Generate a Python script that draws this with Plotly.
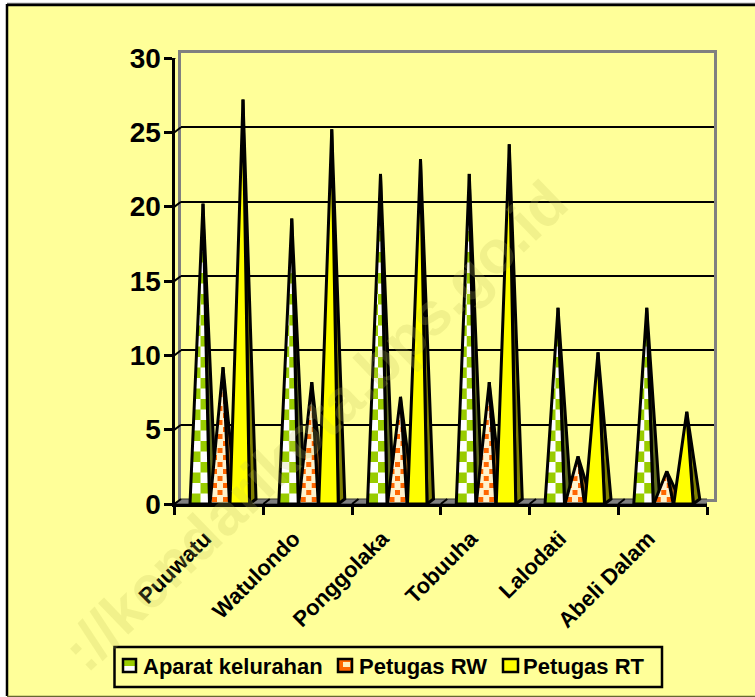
import plotly.graph_objects as go

categories = ["Puuwatu", "Watulondo", "Ponggolaka", "Tobuuha", "Lalodati", "Abeli Dalam"]
aparat = [20, 19, 22, 22, 13, 13]
rw = [9, 8, 7, 8, 3, 2]
rt = [27, 25, 23, 24, 10, 6]
y_ticks = [0, 5, 10, 15, 20, 25, 30]
WATERMARK = "://kendarikota.bps.go.id"

W, H = 755, 697
# front plane and back wall pixel frames
FL, FR, FB, FT = 174.5, 707, 504, 58
DX, DY = 6.5, 5
PX = (FR - FL) / 6
PY = (FB - FT) / 30


def clip(poly, a, b):
    """Keep the part of poly on the left of the a->b edge."""
    out = []
    side = lambda p: (b[0] - a[0]) * (p[1] - a[1]) - (b[1] - a[1]) * (p[0] - a[0])
    for i, p in enumerate(poly):
        q = poly[(i + 1) % len(poly)]
        sp, sq = side(p), side(q)
        if sp >= 0:
            out.append(p)
        if sp * sq < 0:
            t = sp / (sp - sq)
            out.append((p[0] + t * (q[0] - p[0]), p[1] + t * (q[1] - p[1])))
    return out


def clip_tri(p, tri):
    (l, _), (r, _), ap = tri
    for a, b in [((l, 0), (r, 0)), ((r, 0), ap), (ap, (l, 0))]:
        if p:
            p = clip(p, a, b)
    return p


def to_xy(polys):
    xs, ys = [], []
    for poly in polys:
        if not poly:
            continue
        xs += [p[0] for p in poly] + [poly[0][0], None]
        ys += [p[1] for p in poly] + [poly[0][1], None]
    return xs, ys


def cone(group, series, value):
    """Cone outline in data units; px offsets are converted by PX / PY."""
    left = group + (15.5 + series * 20) / PX
    right = left + 19.5 / PX
    apex = (left + 13 / PX, value + 3 / PY)
    return (left, 0), (right, 0), apex


def checker(tri, size=10.5):
    (l, _), (r, _), ap = tri
    cw, ch = size / PX, size / PY
    polys = []
    i = 0
    while i * ch < ap[1]:
        for j in range(3):
            if (i + j) % 2 == 0:
                x0, x1 = l + j * cw, l + (j + 1) * cw
                y0, y1 = i * ch, (i + 1) * ch
                polys.append(clip_tri([(x0, y0), (x1, y0), (x1, y1), (x0, y1)], tri))
        i += 1
    return polys


def dots(tri, step=11, row=7, dot=5):
    (l, _), (r, _), ap = tri
    polys = []
    i = 0
    while (2 + i * row) / PY < ap[1]:
        y0 = (2 + i * row) / PY
        k = -1
        while True:
            x0 = l + (2 + k * step + (i % 2) * step / 2) / PX
            if x0 > r:
                break
            polys.append(clip_tri([(x0, y0), (x0 + dot / PX, y0), (x0 + dot / PX, y0 + dot / PY), (x0, y0 + dot / PY)], tri))
            k += 1
        i += 1
    return polys


fig = go.Figure()
F = dict(xaxis="x2", yaxis="y2", cliponaxis=False, hoverinfo="skip")

# invisible trace so the back wall subplot is drawn
fig.add_trace(go.Scatter(x=[0, 6], y=[0, 30], mode="lines", line=dict(width=0), showlegend=False,
                         hoverinfo="skip", xaxis="x", yaxis="y"))

# legend entries (the text is native; their swatches are drawn below at the reference size)
for name, lg in [("Aparat kelurahan", "legend"), ("Petugas RW", "legend2"), ("Petugas RT", "legend3")]:
    fig.add_trace(go.Bar(
        x=[0.5], y=[0], width=0.001, name=name, xaxis="x2", yaxis="y2", legend=lg,
        marker=dict(color="rgba(0,0,0,0)", line=dict(width=0)), hoverinfo="skip",
    ))

# floor
fig.add_trace(go.Scatter(
    x=[0, DX / PX, 6 + DX / PX, 6, 0], y=[0, DY / PY, DY / PY, 0, 0], mode="lines", fill="toself",
    fillcolor="#808080", line=dict(color="#333333", width=1), showlegend=False, **F))
# connector stubs from front axis to back wall
sx, sy = [], []
for v in y_ticks[1:]:
    sx += [0, DX / PX, None]
    sy += [v, v + DY / PY, None]
for i in range(0, 7):
    sx += [i, i + DX / PX, None]
    sy += [0, DY / PY, None]
fig.add_trace(go.Scatter(x=sx, y=sy, mode="lines", line=dict(color="#000000", width=2), showlegend=False, **F))

series = [
    (aparat, "#FFFFFF", "#99CC00", "#5F6B1E"),
    (rw, "#FFF2CC", "#FF6600", "#8F5A10"),
    (rt, "#FFFF00", None, "#808000"),
]
black = dict(color="#000000", width=3)
for g in range(len(categories)):
    for s, (vals, base, pat, dark) in enumerate(series):
        tri = cone(g, s, vals[g])
        (l, _), (r, _), ap = tri
        # dark right side
        fig.add_trace(go.Scatter(
            x=[r, r + DX / PX, ap[0], r], y=[0, DY / PY, ap[1], 0], mode="lines", fill="toself",
            fillcolor=dark, line=black, showlegend=False, **F))
        # lit face
        fig.add_trace(go.Scatter(
            x=[l, r, ap[0], l], y=[0, 0, ap[1], 0], mode="lines", fill="toself",
            fillcolor=base, line=dict(width=0), showlegend=False, **F))
        polys = checker(tri) if s == 0 else dots(tri) if s == 1 else []
        if polys:
            xs, ys = to_xy(polys)
            fig.add_trace(go.Scatter(x=xs, y=ys, mode="lines", fill="toself", fillcolor=pat,
                                     line=dict(width=0), showlegend=False, **F))
        fig.add_trace(go.Scatter(
            x=[l, r, ap[0], l], y=[0, 0, ap[1], 0], mode="lines", line=black, showlegend=False, **F))

font_b = "Liberation Sans"


def legend_at(px):
    return dict(orientation="h", x=px / W, y=1 - 645 / H, xanchor="left", yanchor="top", borderwidth=0,
                bgcolor="rgba(0,0,0,0)", font=dict(family=font_b, size=22, color="#000000", weight="bold"),
                itemwidth=30)


def pline(x0, y0, x1, y1, color, width):
    return dict(type="line", xref="paper", yref="paper", x0=x0 / W, x1=x1 / W, y0=1 - y0 / H, y1=1 - y1 / H,
                line=dict(color=color, width=width), layer="below")


def prect(x0, y0, x1, y1, fill, line=0):
    return dict(type="rect", xref="paper", yref="paper", x0=x0 / W, x1=x1 / W, y0=1 - y1 / H, y1=1 - y0 / H,
                fillcolor=fill, line=dict(color="#000000", width=line), layer="above")


fig.update_layout(
    template=None,
    width=W, height=H, margin=dict(l=0, r=0, t=0, b=0, autoexpand=False), autosize=False,
    paper_bgcolor="#FFFFFF", plot_bgcolor="rgba(0,0,0,0)",
    font=dict(family=font_b, color="#000000"),
    barmode="overlay",
    xaxis=dict(domain=[(FL + DX) / W, (FR + DX) / W], range=[0, 6], anchor="y", automargin=False,
               showticklabels=False, ticks="", showgrid=False, zeroline=False,
               showline=True, mirror=True, linecolor="#808080", linewidth=2.5),
    yaxis=dict(domain=[1 - (FB - DY) / H, 1 - (FT - DY) / H], range=[0, 30], anchor="x", automargin=False,
               tickvals=y_ticks, showticklabels=False, ticks="", showgrid=True, gridcolor="#000000",
               gridwidth=2, zeroline=False, showline=True, mirror=True, linecolor="#808080", linewidth=2.5),
    xaxis2=dict(domain=[FL / W, FR / W], range=[0, 6], anchor="y2", automargin=False,
                tickmode="array", tickvals=[i + 0.5 for i in range(6)], ticktext=categories,
                tickangle=-45, ticks="", ticklabelshift=-14, ticklabelstandoff=10,
                tickfont=dict(family=font_b, size=22, color="#000000", weight="bold"),
                showgrid=False, zeroline=False, showline=True, linecolor="#000000", linewidth=3,
                minor=dict(tickmode="array", tickvals=list(range(7)), ticks="outside",
                           ticklen=8, tickwidth=3, tickcolor="#000000", showgrid=False)),
    yaxis2=dict(domain=[1 - FB / H, 1 - FT / H], range=[0, 30], anchor="x2", automargin=False,
                tickvals=y_ticks, ticks="outside", ticklen=8, tickwidth=3, tickcolor="#000000",
                ticklabelstandoff=-3,
                tickfont=dict(family=font_b, size=28, color="#000000", weight="bold"),
                showgrid=False, zeroline=False, showline=True, linecolor="#000000", linewidth=3),
    legend=legend_at(103),
    legend2=legend_at(319),
    legend3=legend_at(483),
    shapes=[
        dict(type="rect", xref="paper", yref="paper", x0=7 / W, x1=1.01, y0=1 - 696 / H, y1=1 - 5 / H,
             fillcolor="#FFFF99", line=dict(width=0), layer="below"),
        pline(7, 3.5, 760, 3.5, "#808080", 1.5),
        pline(7, 5, 760, 5, "#000000", 2.5),
        pline(7, 4, 7, 696, "#000000", 2.5),
        pline(7, 696.5, 760, 696.5, "#666633", 1.5),
        dict(type="rect", xref="paper", yref="paper", x0=114.5 / W, x1=662 / W, y0=1 - 687 / H, y1=1 - 647 / H,
             line=dict(color="#000000", width=2.5), layer="above"),
        # legend swatches
        prect(123, 659, 136, 666, "#99CC00"),
        prect(123, 666, 136, 672, "#FFFFFF"),
        prect(123, 659, 136, 672, "rgba(0,0,0,0)", 2.5),
        prect(338, 659, 352, 672, "#FF6600"),
        prect(343, 662, 350, 667, "#FFEFC0"),
        prect(338, 659, 352, 672, "rgba(0,0,0,0)", 2.5),
        prect(503, 659, 518, 672, "#FFFF00", 2.5),
    ],
    annotations=[dict(text=WATERMARK, xref="x2", yref="y2", x=(314 - FL) / PX, y=(FB - 426) / PY, showarrow=False,
                      textangle=-44, font=dict(family=font_b, size=60, color="rgba(190,190,90,0.22)", weight="bold"))],
)

fig.write_html("out.html", config=dict(displayModeBar=False), post_script="document.body.style.margin='0';")
